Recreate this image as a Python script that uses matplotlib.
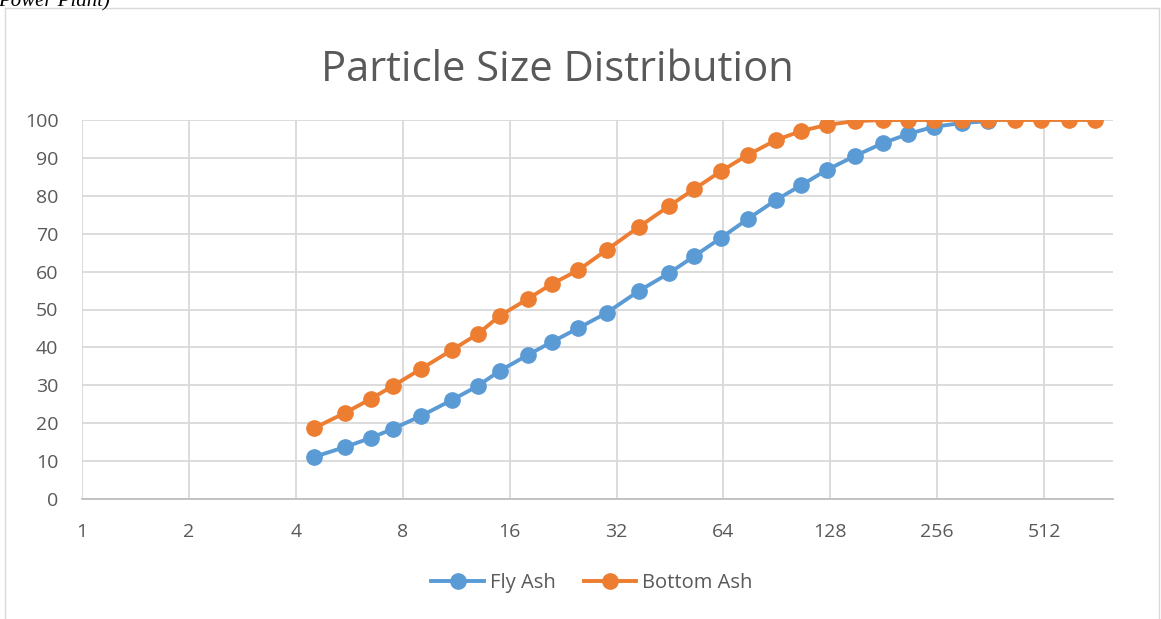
import matplotlib.pyplot as plt
from matplotlib.lines import Line2D

# particle size (log2 axis) and cumulative percent passing
size = [4.5, 5.5, 6.5, 7.5, 9, 11, 13, 15, 18, 21, 25, 30, 37, 45, 53, 63, 75,
        90, 106, 125, 150, 180, 212, 250, 300, 355, 425, 500, 600, 710]
fly_ash = [11.1, 13.7, 16.1, 18.5, 21.9, 26.1, 29.8, 33.8, 38.0, 41.4, 45.1, 49.1,
           54.9, 59.6, 64.1, 68.9, 73.9, 78.9, 82.8, 86.8, 90.5, 93.9, 96.3, 98.2,
           99.2, 99.7]
bottom_ash = [18.7, 22.7, 26.4, 29.8, 34.3, 39.3, 43.5, 48.3, 52.8, 56.7, 60.4, 65.7,
              71.8, 77.3, 81.8, 86.5, 90.8, 94.7, 97.1, 98.7, 99.7, 100, 100, 100,
              100, 100, 100, 100, 100, 100]
xticks = [1, 2, 4, 8, 16, 32, 64, 128, 256, 512]

plt.rcParams['font.family'] = ['Open Sans', 'DejaVu Sans']
txt = '#595959'
blue = '#5b9bd5'
orange = '#ed7d31'

fig = plt.figure(figsize=(11.61, 6.19), dpi=100)
ax = fig.add_axes([82/1161, 1 - 499/619, (1113-82)/1161, (499-120)/619])

ax.plot(size[:len(fly_ash)], fly_ash, color=blue, lw=2.8, marker='o', ms=11, label='Fly Ash')
ax.plot(size, bottom_ash, color=orange, lw=2.8, marker='o', ms=11, label='Bottom Ash')

ax.set_xscale('log', base=2)
ax.set_xlim(1, 800)
ax.set_ylim(0, 100)
ax.set_xticks(xticks)
ax.set_xticklabels([str(v) for v in xticks])
ax.set_yticks(range(0, 101, 10))
ax.minorticks_off()
ax.grid(True, color='#d9d9d9', lw=1.3)
ax.set_axisbelow(True)
for s in ['top', 'right', 'left']:
    ax.spines[s].set_visible(False)
ax.spines['bottom'].set_color('#bfbfbf')
ax.spines['bottom'].set_linewidth(1.3)
ax.tick_params(length=0, labelsize=14, colors=txt)
ax.tick_params(axis='x', pad=17)
ax.tick_params(axis='y', pad=17)

fig.text(557/1161, 1 - 70/619, 'Particle Size Distribution', ha='center', va='center',
         fontsize=30, color=txt)

h = [Line2D([], [], color=blue, lw=2.8, marker='o', ms=11),
     Line2D([], [], color=orange, lw=2.8, marker='o', ms=11)]
fig.legend(h, ['Fly Ash', 'Bottom Ash'], loc='center', bbox_to_anchor=(592/1161, 1 - 583/619),
           ncol=2, frameon=False, fontsize=14.5, labelcolor=txt, handlelength=2.6,
           columnspacing=1.4, handletextpad=0.3)

# chart border
fig.add_artist(Line2D([5/1161, 5/1161], [0, 1 - 8/619], transform=fig.transFigure, color='#d9d9d9', lw=1))
fig.add_artist(Line2D([5/1161, 1159/1161], [1 - 8/619, 1 - 8/619], transform=fig.transFigure, color='#d9d9d9', lw=1))
fig.add_artist(Line2D([1159/1161, 1159/1161], [0, 1 - 8/619], transform=fig.transFigure, color='#d9d9d9', lw=1))
fig.text(-2/1161, 1 - 2/619, 'Power Plant)', ha='left', va='center', fontsize=15,
         style='italic', family='Liberation Serif')

fig.savefig('out.png', dpi=100)
